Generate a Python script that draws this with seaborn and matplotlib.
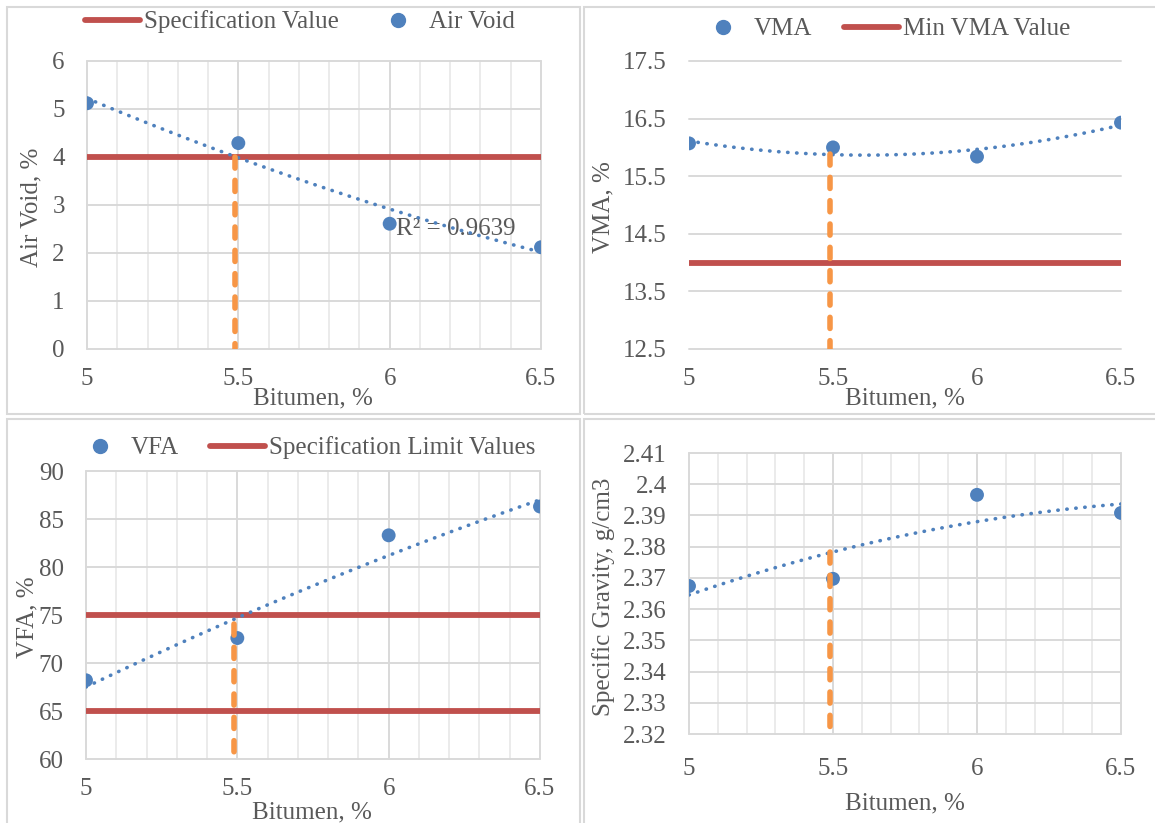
import matplotlib
matplotlib.use("Agg")
import matplotlib.pyplot as plt
from matplotlib.lines import Line2D
from matplotlib.patches import Rectangle
from matplotlib.ticker import FixedLocator
import seaborn as sns

# ---- Marshall mix design results ----
bitumen = [5.0, 5.5, 6.0, 6.5]
air_void = [5.12, 4.29, 2.61, 2.12]
vma = [16.07, 16.00, 15.84, 16.43]
vfa = [68.2, 72.6, 83.3, 86.3]
gmb = [2.3674, 2.3697, 2.3966, 2.3908]

# specification limits
air_void_spec = [4.0]
vma_min = [14.0]
vfa_limits = [75.0, 65.0]

# optimum bitumen content and where its marker meets each curve
optimum_bitumen = 5.49
optimum_top = [4.0, 15.885, 74.06, 2.3784]

x_ticks = [5, 5.5, 6, 6.5]
x_tick_labels = ["5", "5.5", "6", "6.5"]
air_void_ticks = [0, 1, 2, 3, 4, 5, 6]
vma_ticks = [12.5, 13.5, 14.5, 15.5, 16.5, 17.5]
vfa_ticks = [60, 65, 70, 75, 80, 85, 90]
gmb_ticks = [2.32, 2.33, 2.34, 2.35, 2.36, 2.37, 2.38, 2.39, 2.40, 2.41]
gmb_tick_labels = ["2.32", "2.33", "2.34", "2.35", "2.36", "2.37", "2.38",
                   "2.39", "2.4", "2.41"]
r2_label = "R\u00b2 = 0.9639"

BLUE = "#4F81BD"
RED = "#C0504D"
ORANGE = "#F79646"
TEXT = "#595959"
GRID_MAJOR = "#D9D9D9"
GRID_MINOR = "#EBEBEB"
FS = 18

sns.set_theme(style="white")
plt.rcParams["font.family"] = ["Liberation Serif", "DejaVu Serif"]
plt.rcParams["text.color"] = TEXT
plt.rcParams["axes.labelcolor"] = TEXT

W, H = 1155, 823
fig = plt.figure(figsize=(W / 100, H / 100), dpi=100)
fig.patch.set_facecolor("white")


def px_axes(left, top, right, bottom):
    return fig.add_axes([left / W, 1 - bottom / H, (right - left) / W, (bottom - top) / H])


# chart frames
for (l, t, r, b) in [(7, 7, 580, 414), (584, 7, 1162, 414),
                     (7, 419, 580, 830), (584, 419, 1162, 830)]:
    fig.add_artist(Rectangle((l / W, 1 - b / H), (r - l) / W, (b - t) / H,
                             transform=fig.transFigure, fill=False,
                             edgecolor=GRID_MAJOR, lw=1.5, zorder=0))


def panel(ax, values, ylim, yticks, ylabels, ylabel, vgrid, spec, top,
          ylab_xy, xlab_xy):
    sns.regplot(x=bitumen, y=values, order=2, ci=None, scatter=False, ax=ax,
                truncate=True,
                line_kws=dict(color=BLUE, lw=2.6, linestyle=(0, (0.1, 2.4)),
                              dash_capstyle="round", zorder=4))
    sns.scatterplot(x=bitumen, y=values, ax=ax, color=BLUE, s=100,
                    edgecolor="none", linewidth=0, zorder=5, legend=False)
    for v in spec:
        ax.plot([bitumen[0], bitumen[-1]], [v, v], color=RED, lw=4.2,
                solid_capstyle="butt", zorder=3)
    marker, = ax.plot([optimum_bitumen, optimum_bitumen], [top, ylim[0]],
                      color=ORANGE, lw=4, linestyle=(0, (2.0, 2.2)), zorder=6)
    marker.set_dash_capstyle("round")

    ax.set_xlim(5, 6.5)
    ax.set_ylim(*ylim)
    ax.xaxis.set_major_locator(FixedLocator(x_ticks))
    ax.set_xticklabels(x_tick_labels)
    ax.yaxis.set_major_locator(FixedLocator(yticks))
    ax.set_yticklabels(ylabels)
    ax.set_axisbelow(True)
    if vgrid:
        ax.xaxis.set_minor_locator(FixedLocator([5 + 0.1 * i for i in range(16)]))
        ax.grid(which="minor", axis="x", color=GRID_MINOR, lw=1.4)
        ax.grid(which="major", axis="both", color=GRID_MAJOR, lw=1.4)
    else:
        ax.grid(which="major", axis="y", color=GRID_MAJOR, lw=1.4)
        ax.grid(which="major", axis="x", visible=False)
    for s in ax.spines.values():
        s.set_visible(False)
    ax.tick_params(axis="both", which="both", length=0, labelsize=FS,
                   colors=TEXT)
    ax.tick_params(axis="x", pad=14)
    ax.tick_params(axis="y", pad=16)
    ax.set_facecolor("white")

    ax.set_xlabel("Bitumen, %", fontsize=FS, color=TEXT)
    ax.set_ylabel(ylabel, fontsize=FS, color=TEXT)
    ax.xaxis.set_label_coords(*xlab_xy)
    ax.yaxis.set_label_coords(*ylab_xy)
    ax.xaxis.label.set_verticalalignment("center")
    ax.yaxis.label.set_verticalalignment("center")


ax1 = px_axes(87, 61, 541, 349)
panel(ax1, air_void, (0, 6), air_void_ticks, [str(t) for t in air_void_ticks],
      "Air Void, %", True, air_void_spec, optimum_top[0],
      (-0.123, 0.493), (0.498, -0.17))
ax1.text(6.02, 2.5, r2_label, ha="left", va="center", fontsize=FS,
         color=TEXT, zorder=3.5)

ax2 = px_axes(689, 61, 1121, 349)
panel(ax2, vma, (12.5, 17.5), vma_ticks, [str(t) for t in vma_ticks],
      "VMA, %", False, vma_min, optimum_top[1],
      (-0.199, 0.493), (0.5, -0.17))

ax3 = px_axes(86, 471, 540, 759)
panel(ax3, vfa, (60, 90), vfa_ticks, [str(t) for t in vfa_ticks],
      "VFA, %", True, vfa_limits, optimum_top[2],
      (-0.128, 0.493), (0.498, -0.184))

ax4 = px_axes(689, 453, 1121, 734)
panel(ax4, gmb, (2.32, 2.41), gmb_ticks, gmb_tick_labels,
      "Specific Gravity, g/cm3", True, [], optimum_top[3],
      (-0.197, 0.488), (0.5, -0.246))
ax4.tick_params(axis="x", pad=17)

# legends
line_handle = Line2D([], [], color=RED, lw=4.2, solid_capstyle="round")
dot_handle = Line2D([], [], marker="o", ls="none", color=BLUE, markersize=10)


def legend(ax, handles, labels, x, y):
    ax.legend(handles, labels, loc="center left",
              bbox_to_anchor=(x / W, 1 - y / H), bbox_transform=fig.transFigure,
              ncol=2, frameon=False, borderpad=0, borderaxespad=0,
              handlelength=2.2, handletextpad=0.16, columnspacing=1.25,
              fontsize=FS, labelcolor=TEXT)


legend(ax1, [line_handle, dot_handle], ["Specification Value", "Air Void"], 85, 22)
legend(ax2, [dot_handle, line_handle], ["VMA", "Min VMA Value"], 695, 29)
legend(ax3, [dot_handle, line_handle], ["VFA", "Specification Limit Values"], 72, 448)

# let grid lines on the plot edges draw at full width
fig.canvas.draw()
for ax in (ax1, ax2, ax3, ax4):
    for t in ax.xaxis.get_major_ticks() + ax.xaxis.get_minor_ticks() + \
            ax.yaxis.get_major_ticks():
        t.gridline.set_clip_on(False)

fig.savefig("out.png", dpi=100, facecolor="white")
